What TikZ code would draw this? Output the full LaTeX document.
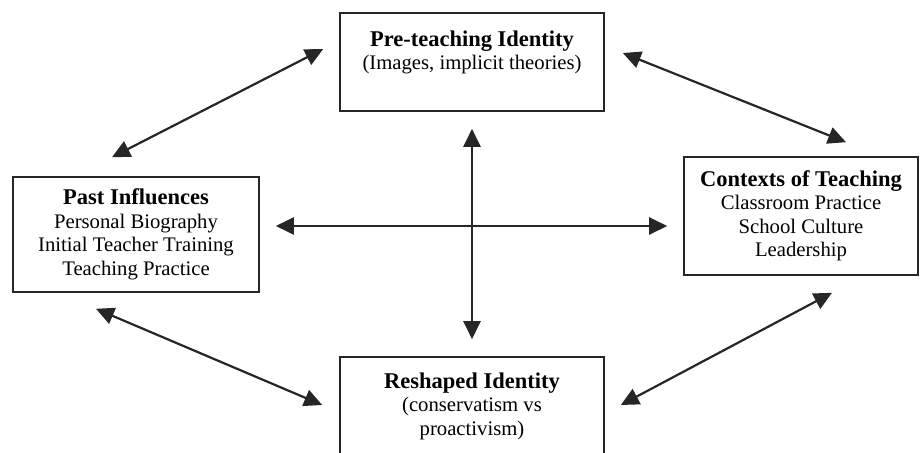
\documentclass[tikz,border=0pt]{standalone}
\usepackage{fontspec}
\setmainfont{Liberation Serif}
\usetikzlibrary{arrows.meta,calc}

\newcommand{\boxhead}[1]{{\fontsize{22.5}{24}\selectfont\bfseries #1}}

\tikzset{
  stage/.style={draw=black!85, line width=1.6pt, align=center, inner sep=0pt,
    font=\fontsize{20.7}{23.5}\selectfont},
  link/.style={black!85, line width=2.2pt,
    {Triangle[length=18pt,width=17pt]}-{Triangle[length=18pt,width=17pt]}},
}

\begin{document}
\begin{tikzpicture}[x=1pt,y=-1pt]
  \useasboundingbox (0,0) rectangle (920,452);
  \clip (0,0) rectangle (920,452);

  % Boxes
  \node[stage, minimum width=264pt, minimum height=98pt] (pre) at (472,62)
    {\boxhead{Pre-teaching Identity}\\(Images, implicit theories)\\ \mbox{}};
  \node[stage, minimum width=246pt, minimum height=115pt] (past) at (136,234.5)
    {\boxhead{Past Influences}\\Personal Biography\\Initial Teacher Training\\Teaching Practice};
  \node[stage, minimum width=234pt, minimum height=118pt] (ctx) at (801,216)
    {\boxhead{Contexts of Teaching}\\Classroom Practice\\School Culture\\Leadership};
  \node[stage, minimum width=264pt, minimum height=98pt] (res) at (472,406)
    {\boxhead{Reshaped Identity}\\(conservatism vs\\proactivism)};

  % Central cross
  \coordinate (cross) at (472,226);
  \draw[link, shorten <=17pt, shorten >=17pt] (pre) -- (res);
  \draw[link, shorten <=16pt, shorten >=16pt] (past.east |- cross) -- (ctx.west |- cross);

  % Diagonal links
  \draw[link] ($(past.north)+(-24,-19)$) -- ($(pre.west)+(-16,-13)$);
  \draw[link] ($(pre.east)+(18,-9)$) -- ($(ctx.north)+(45,-14)$);
  \draw[link] ($(past.south)+(-40,16)$) -- ($(res.west)+(-17,-1)$);
  \draw[link] ($(res.east)+(16,-1)$) -- ($(ctx.south)+(31,17)$);
\end{tikzpicture}
\end{document}
